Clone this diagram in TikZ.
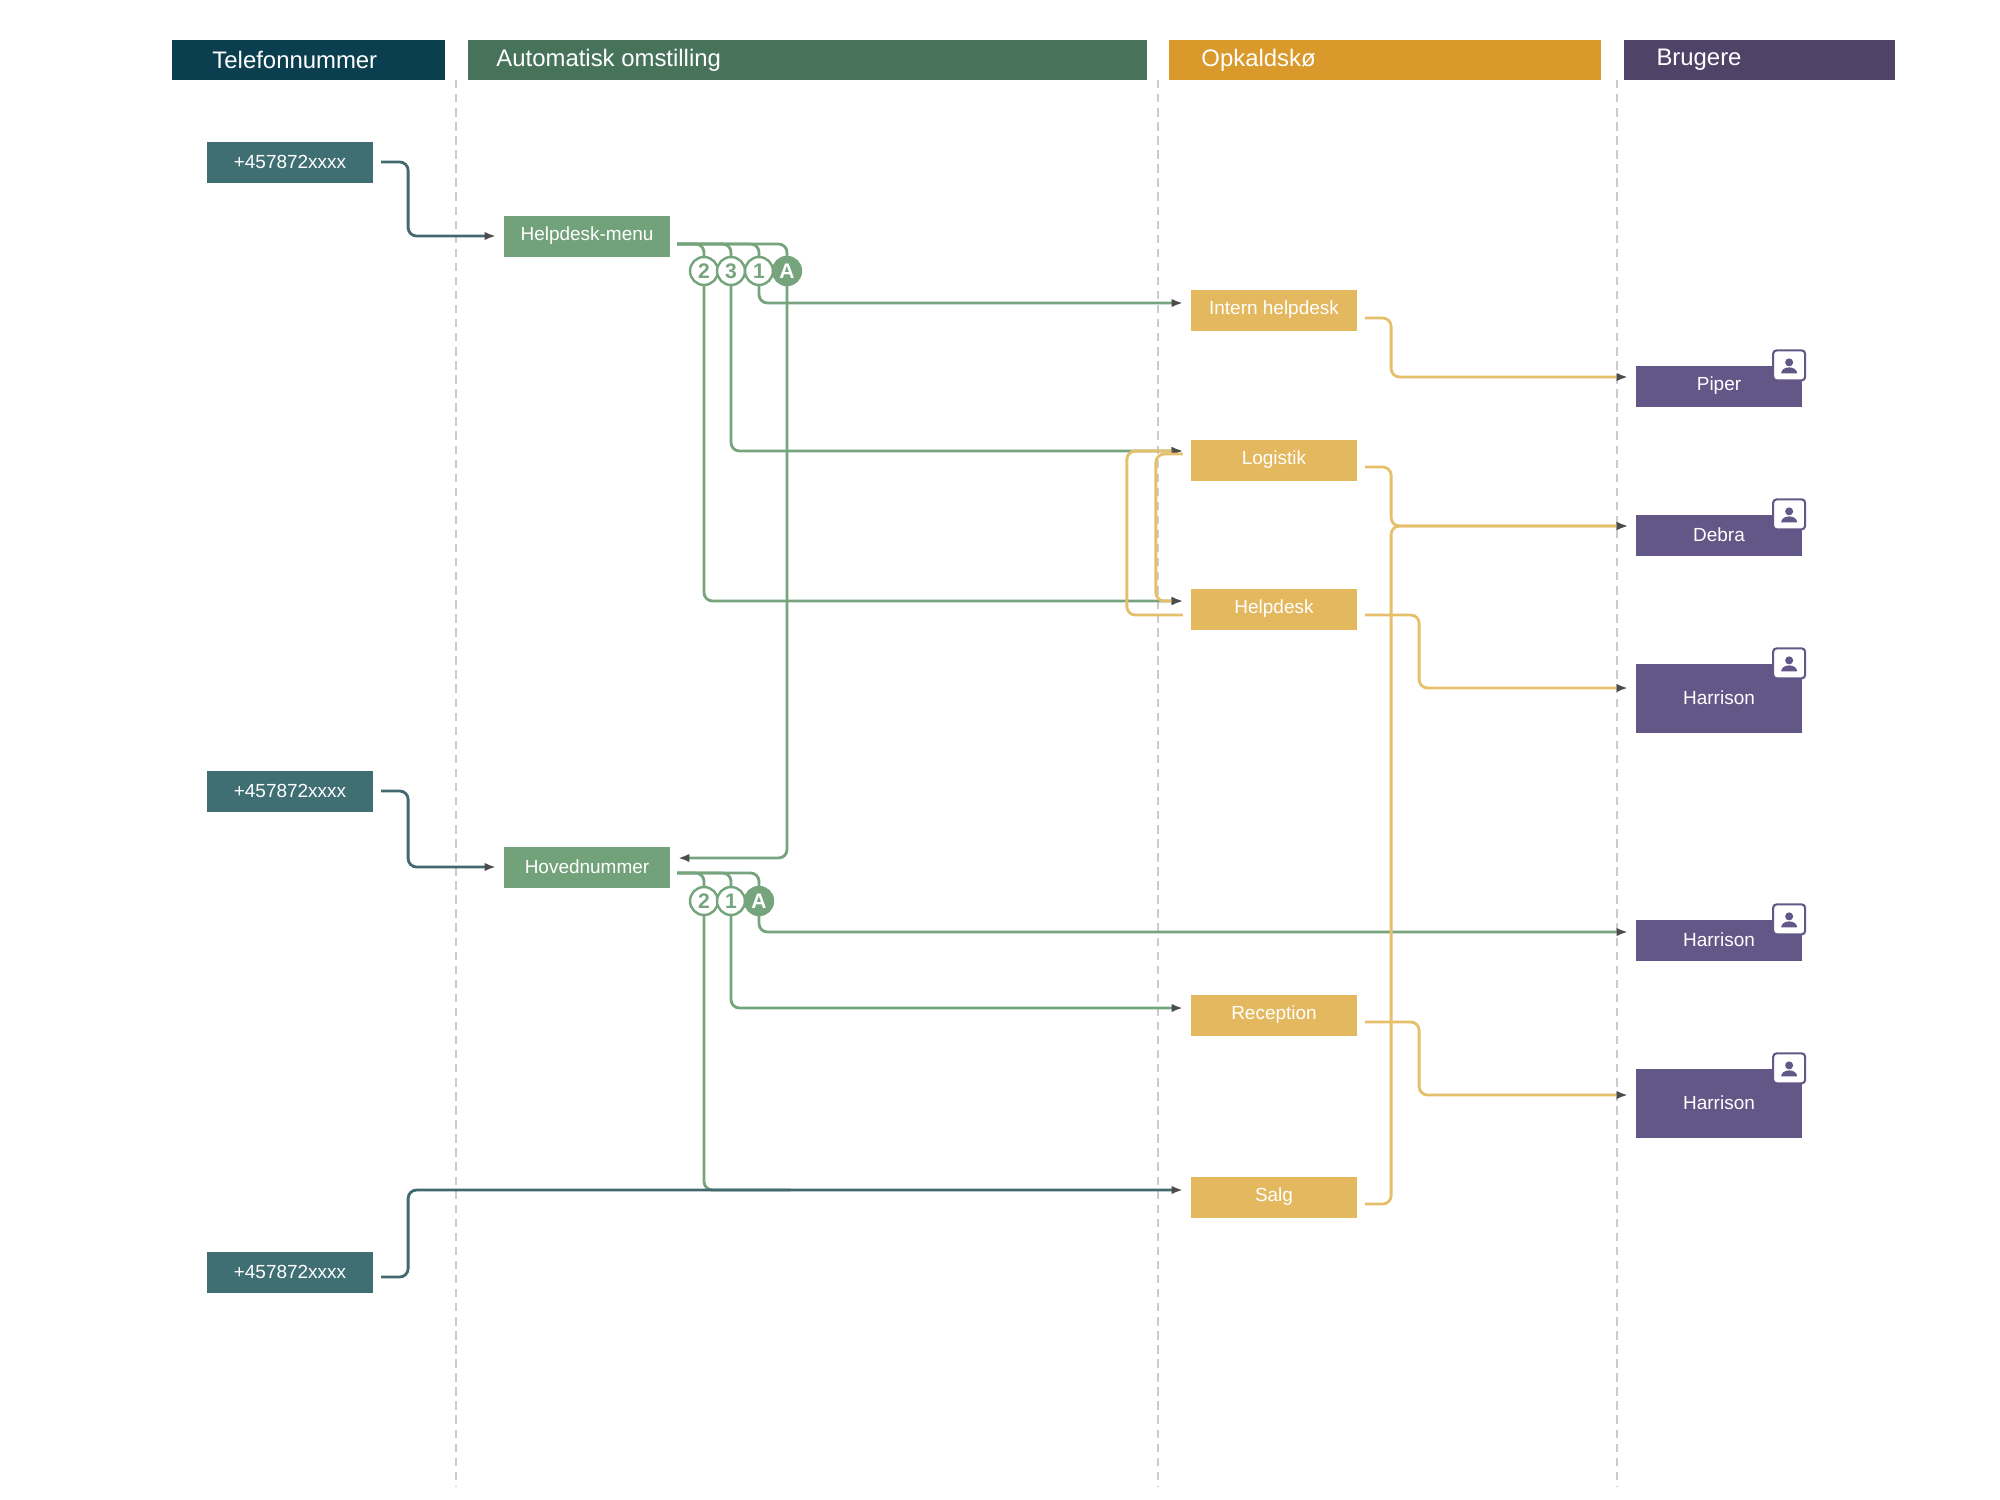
\documentclass[tikz,border=0pt]{standalone}
\usepackage{fontspec}
\setmainfont{Liberation Sans}
\usetikzlibrary{positioning,arrows.meta,calc}
\definecolor{telhead}{HTML}{0B3F4F}
\definecolor{autohead}{HTML}{467359}
\definecolor{queuehead}{HTML}{D99A2B}
\definecolor{userhead}{HTML}{4F4468}
\definecolor{telbox}{HTML}{3F6F73}
\definecolor{autobox}{HTML}{72A27A}
\definecolor{queuebox}{HTML}{E4B85E}
\definecolor{userbox}{HTML}{625787}
\definecolor{telline}{HTML}{41696F}
\definecolor{autoline}{HTML}{76A47C}
\definecolor{queueline}{HTML}{E6BF6A}
\tikzset{
  head/.style={rectangle,fill=#1,minimum height=2cm,inner sep=0pt,anchor=west},
  headtext/.style={anchor=west,text=white,font=\fontsize{34}{40}\selectfont},
  box/.style={rectangle,fill=#1,text=white,minimum width=8.3cm,minimum height=2.05cm,inner sep=0pt,font=\fontsize{27}{32}\selectfont},
  opt/.style={circle,draw=autoline,line width=3.5pt,fill=white,text=autoline,minimum size=1.4cm,inner sep=0pt,font=\bfseries\fontsize{30}{32}\selectfont},
  optA/.style={opt,fill=autoline,text=white},
  link/.style={draw=#1,line width=4pt,rounded corners=12pt,-{Latex[length=16pt,width=12pt,color=black!70]}},
  plain/.style={draw=#1,line width=4pt,rounded corners=12pt},
  badge/.style={rectangle,rounded corners=5pt,draw=userbox,line width=3pt,fill=white,minimum width=1.6cm,minimum height=1.5cm,inner sep=0pt},
  lane/.style={draw=gray!40,dashed,line width=2pt,dash pattern=on 12pt off 8pt}
}
\begin{document}
\begin{tikzpicture}[x=0.05cm,y=-0.05cm]
\useasboundingbox (0,0) rectangle (2000,1500);
% lanes
\foreach \lx in {456,1158,1617} \draw[lane] (\lx,80) -- (\lx,1487);
% headers
\node[head=telhead,minimum width=13.65cm] (h1) at (172,60) {};
\node[headtext] at (210,60) {Telefonnummer};
\node[head=autohead,minimum width=33.95cm] (h2) at (468,60) {};
\node[headtext] at (494,60) {Automatisk omstilling};
\node[head=queuehead,minimum width=21.6cm] (h3) at (1169,60) {};
\node[headtext] at (1199,60) {Opkaldskø};
\node[head=userhead,minimum width=13.55cm] (h4) at (1624,60) {};
\node[headtext] at (1654,60) {Brugere};
% phone numbers
\node[box=telbox] (ph1) at (290,162) {+457872xxxx};
\node[box=telbox] (ph2) at (290,791) {+457872xxxx};
\node[box=telbox] (ph3) at (290,1272) {+457872xxxx};
% menus
\node[box=autobox] (menu) at (587,236) {Helpdesk-menu};
\node[box=autobox] (main) at (587,867) {Hovednummer};
\node[opt] (m2) at (704,271) {2};
\node[opt] (m3) at (731,271) {3};
\node[opt] (m1) at (759,271) {1};
\node[optA] (mA) at (787,271) {A};
\node[opt] (n2) at (704,901) {2};
\node[opt] (n1) at (731,901) {1};
\node[optA] (nA) at (759,901) {A};
% queues
\node[box=queuebox] (intern) at (1274,310) {Intern helpdesk};
\node[box=queuebox] (logistik) at (1274,460) {Logistik};
\node[box=queuebox] (helpdesk) at (1274,609) {Helpdesk};
\node[box=queuebox] (recep) at (1274,1015) {Reception};
\node[box=queuebox] (salg) at (1274,1197) {Salg};
% users
\node[box=userbox] (piper) at (1719,386) {Piper};
\node[box=userbox] (debra) at (1719,535) {Debra};
\node[box=userbox,minimum height=3.45cm] (harr1) at (1719,698) {Harrison};
\node[box=userbox] (harr2) at (1719,940) {Harrison};
\node[box=userbox,minimum height=3.45cm] (harr3) at (1719,1103) {Harrison};
\foreach \u in {piper,debra,harr1,harr2,harr3}{
  \node[badge,xshift=-0.65cm] (b\u) at (\u.north east) {};
  \fill[userbox] ($(b\u.center)+(0,-3)$) circle (4);
  \fill[userbox] ($(b\u.center)+(-8,8)$) arc (180:360:8 and 6) -- cycle;
}
% phone numbers to menus
\draw[link=telline] ($(ph1.east)+(8,0)$) -| ($(ph1.east)+(35,30)$) |- ($(menu.west)+(-8,0)$);
\draw[link=telline] ($(ph2.east)+(8,0)$) -| ($(ph2.east)+(35,30)$) |- ($(main.west)+(-8,0)$);
% menu options
\foreach \o in {m2,m3,m1,mA} \draw[plain=autoline] ($(menu.east)+(7,8)$) -| (\o.north);
\foreach \o in {n2,n1,nA} \draw[plain=autoline] ($(main.east)+(7,6)$) -| (\o.north);
\draw[link=autoline] (m1.south) |- ($(intern.west)+(-8,-7)$);
\draw[link=autoline] (m3.south) |- ($(logistik.west)+(-8,-9)$);
\draw[link=autoline] (m2.south) |- ($(helpdesk.west)+(-8,-8)$);
\draw[link=autoline] (mA.south) |- ($(main.east)+(8,-9)$);
\draw[link=autoline] (nA.south) |- ($(harr2.west)+(-8,-8)$);
\draw[link=autoline] (n1.south) |- ($(recep.west)+(-8,-7)$);
\draw[plain=autoline] (n2.south) |- ($(salg.west)+(-400,-7)$);
\draw[link=telline] ($(ph3.east)+(8,5)$) -| ($(ph3.east)+(35,-40)$) |- ($(salg.west)+(-8,-7)$);
% queues to users
\draw[link=queueline] ($(intern.east)+(8,8)$) -| ($(intern.east)+(34,30)$) |- ($(piper.west)+(-8,-9)$);
\draw[link=queueline] ($(logistik.east)+(8,7)$) -| ($(logistik.east)+(34,30)$) |- ($(debra.west)+(-8,-9)$);
\draw[link=queueline] ($(salg.east)+(8,7)$) -| ($(salg.east)+(34,-30)$) |- ($(debra.west)+(-8,-9)$);
\draw[link=queueline] ($(helpdesk.east)+(8,6)$) -| ($(helpdesk.east)+(62,30)$) |- ($(harr1.west)+(-8,-10)$);
\draw[link=queueline] ($(recep.east)+(8,7)$) -| ($(recep.east)+(62,30)$) |- ($(harr3.west)+(-8,-8)$);
% overflow between queues
\draw[link=queueline] ($(helpdesk.west)+(-8,6)$) -| ($(helpdesk.west)+(-64,-30)$) |- ($(logistik.west)+(-8,-9)$);
\draw[link=queueline] ($(logistik.west)+(-8,-6)$) -| ($(logistik.west)+(-35,30)$) |- ($(helpdesk.west)+(-8,-8)$);
\end{tikzpicture}
\end{document}
